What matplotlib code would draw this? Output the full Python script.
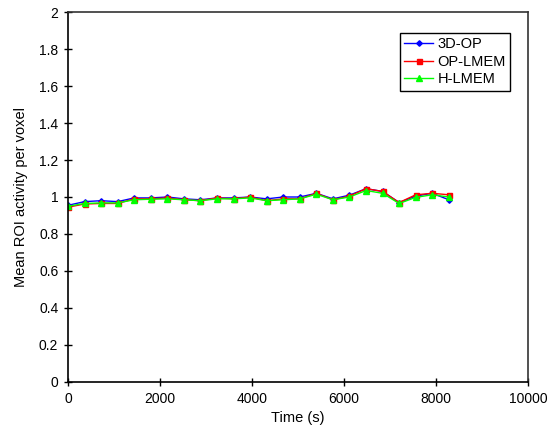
import numpy as np
import matplotlib
matplotlib.use("Agg")
import matplotlib.pyplot as plt

plt.rcParams['font.family'] = ['Liberation Sans', 'DejaVu Sans']

# sample times (s), one frame every 360 s
time_s = [0, 360, 720, 1080, 1440, 1800, 2160, 2520, 2880, 3240, 3600, 3960,
          4320, 4680, 5040, 5400, 5760, 6120, 6480, 6840, 7200, 7560, 7920, 8280]

op3d = [0.955, 0.975, 0.980, 0.975, 0.995, 0.995, 1.000, 0.990, 0.985, 0.995, 0.995, 1.000,
        0.990, 1.000, 1.000, 1.020, 0.990, 1.010, 1.045, 1.030, 0.970, 1.005, 1.020, 0.985]
op_lmem = [0.945, 0.962, 0.965, 0.965, 0.990, 0.990, 0.995, 0.985, 0.980, 0.995, 0.990, 1.000,
           0.980, 0.990, 0.990, 1.020, 0.985, 1.005, 1.045, 1.030, 0.970, 1.012, 1.020, 1.012]
h_lmem = [0.950, 0.965, 0.968, 0.968, 0.985, 0.988, 0.990, 0.985, 0.980, 0.990, 0.990, 0.995,
          0.980, 0.985, 0.990, 1.015, 0.985, 1.000, 1.035, 1.020, 0.965, 0.998, 1.012, 1.000]

series_names = ["3D-OP", "OP-LMEM", "H-LMEM"]

fig = plt.figure(figsize=(5.54, 4.37), dpi=100)
ax = fig.add_axes([0.1227, 0.1259, 0.8303, 0.8466])

ax.plot(time_s, op3d, color=(0, 0, 1), lw=1, marker='D', ms=2.8, label=series_names[0])
ax.plot(time_s, op_lmem, color=(1, 0, 0), lw=1, marker='s', ms=3.6, label=series_names[1])
ax.plot(time_s, h_lmem, color=(0, 1, 0), lw=1, marker='^', ms=4.5, label=series_names[2])

ax.set_xlim(0, 10000)
ax.set_ylim(0, 2)
ax.set_xticks(np.arange(0, 10001, 2000))
ax.set_yticks(np.arange(0, 2.01, 0.2))
ax.set_yticklabels(["0", "0.2", "0.4", "0.6", "0.8", "1", "1.2", "1.4", "1.6", "1.8", "2"])
ax.tick_params(direction='inout', length=6, width=1, labelsize=10, pad=4)
for sp in ax.spines.values():
    sp.set_linewidth(1.2)
ax.spines['top'].set_color('#333333')
ax.spines['right'].set_color('#333333')

ax.set_xlabel("Time (s)", fontsize=10.5, labelpad=4)
ax.set_ylabel("Mean ROI activity per voxel", fontsize=10.5, labelpad=8)

leg = ax.legend(loc='upper right', bbox_to_anchor=(0.962, 0.944), fontsize=10.5,
                fancybox=False, edgecolor='black', framealpha=1, borderpad=0.3,
                handlelength=2.0, handletextpad=0.3, labelspacing=0.25, borderaxespad=0)
leg.get_frame().set_linewidth(1)

fig.savefig("out.png", dpi=100)
